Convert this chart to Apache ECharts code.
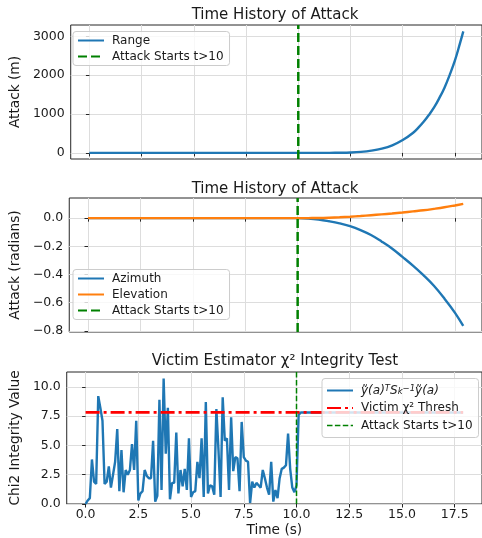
<!DOCTYPE html>
<html><head><meta charset="utf-8">
<script src="https://cdn.jsdelivr.net/npm/echarts@6/dist/echarts.min.js"></script>
<style>html,body{margin:0;padding:0;background:#fff}#c{width:482px;height:538px}</style>
</head><body><div id="c"></div>
<script>
// ---- tick labels ----
const xTicks = [0, 2.5, 5, 7.5, 10, 12.5, 15, 17.5];
const rangeTicks = [0, 1000, 2000, 3000];
const angleTicks = [-0.8, -0.6, -0.4, -0.2, 0.0];
const chiTicks = [0, 2.5, 5, 7.5, 10];

// ---- Range (m) ----
const rangeTime   = [0, 10, 10.5, 11, 11.5, 12, 12.5, 13, 13.5, 14, 14.5, 15, 15.5, 15.75, 16, 16.25, 16.5, 16.75, 17, 17.25, 17.5, 17.75, 17.9];
const rangeValues = [0, 0, 0, 0, 1, 4, 11, 27, 58, 110, 195, 330, 520, 650, 800, 975, 1170, 1410, 1680, 2010, 2380, 2840, 3130];

// ---- Azimuth / Elevation (radians) ----
const angleTime       = [0, 10, 10.5, 11, 11.5, 12, 12.5, 13, 13.5, 14, 14.5, 15, 15.5, 16, 16.5, 17, 17.5, 17.9];
const azimuthValues   = [0, 0, -0.003, -0.01, -0.022, -0.037, -0.057, -0.085, -0.12, -0.165, -0.215, -0.275, -0.337, -0.405, -0.48, -0.57, -0.67, -0.765];
const elevationValues = [0, 0, 0.0005, 0.001, 0.003, 0.006, 0.01, 0.015, 0.021, 0.027, 0.033, 0.04, 0.048, 0.056, 0.066, 0.077, 0.09, 0.101];

// ---- Chi2 test (sampled every 0.1 s from t = 0.0 to 10.2) ----
const chiStep = 0.1;
const chiValues = [
  0.0,0.3,0.5,3.8,1.9,1.7,9.2,8.2,7.1,1.7,
  1.9,3.2,1.4,2.5,3.6,6.4,1.1,4.6,1.0,2.9,
  2.5,2.9,5.1,2.9,7.1,0.3,0.9,1.1,2.9,2.4,
  2.2,2.2,5.4,0.2,0.7,8.9,1.2,10.7,4.3,8.2,
  0.4,1.8,1.8,6.1,0.9,2.9,1.5,3.0,1.2,5.6,
  0.6,1.0,1.1,3.6,2.2,5.6,0.6,8.7,0.9,1.6,
  1.5,0.8,8.1,4.6,0.6,9.1,5.4,5.6,1.2,7.4,
  2.8,4.0,3.9,1.1,7.0,4.0,3.7,3.6,0.1,1.9,
  1.4,1.8,1.6,1.4,2.9,2.2,1.4,0.8,3.6,0.2,
  1.2,0.5,2.2,3.0,3.1,3.3,6.0,3.0,1.4,1.0,
  1.6,7.6,7.81
];
const chiAttackTime   = [17.9];
const chiAttackValues = [7.81];
const threshTime  = [0, 17.9];
const threshValue = 7.81;
const attackStart = 10;

// ---- axis limits ----
const xMin = -0.895, xMax = 18.795;
const rangeMin = -157, rangeMax = 3293;
const angleMin = -0.808, angleMax = 0.143;
const chiMin = 0, chiMax = 11.26;

const nameChi = 'ỹ(a)ᵀSₖ⁻¹ỹ(a)';
const nameThresh = 'Victim χ² Thresh';
const nameAttack = 'Attack Starts t>10';

const FONT = 'DejaVu Sans';
const TXT = '#1a1a1a';
const BLUE = '#1f77b4', ORANGE = '#ff7f0e', GREEN = '#008000', RED = '#ff0000';

function pairs(xs, ys) { return xs.map((x, i) => [x, ys[i]]); }
const chiData = chiValues.map((v, i) => [Math.round(i * chiStep * 10) / 10, v])
  .concat(pairs(chiAttackTime, chiAttackValues));

const grids = [
  {left: 66, top: 25, width: 418, height: 134},
  {left: 66, top: 198, width: 418, height: 134},
  {left: 66, top: 372, width: 418, height: 134}
].map(g => Object.assign(g, {show: true, borderColor: '#262626', borderWidth: 1, backgroundColor: 'transparent', containLabel: false}));

const splitLine = {show: true, lineStyle: {color: '#dddddd', width: 1}};
const tickStyle = {show: true, inside: false, length: 3.5, lineStyle: {color: '#262626', width: 1}};

function xAx(gi, labels) {
  return {
    type: 'value', gridIndex: gi, min: xMin, max: xMax,
    axisLine: {show: false},
    axisTick: Object.assign({customValues: xTicks}, tickStyle),
    axisLabel: {show: labels, customValues: xTicks, formatter: v => v.toFixed(1), color: TXT, fontSize: 12.5, fontFamily: FONT, margin: 4},
    splitLine: splitLine,
    name: labels ? 'Time (s)' : '', nameLocation: 'middle', nameGap: 19,
    nameTextStyle: {fontSize: 13.7, color: TXT, fontFamily: FONT}
  };
}
function yAx(gi, min, max, ticks, fmt, name) {
  return {
    type: 'value', gridIndex: gi, min: min, max: max,
    axisLine: {show: false},
    axisTick: Object.assign({customValues: ticks}, tickStyle),
    axisLabel: {customValues: ticks, formatter: fmt, color: TXT, fontSize: 12.5, fontFamily: FONT, margin: 6},
    splitLine: splitLine,
    name: name, nameLocation: 'middle', nameGap: 39,
    nameTextStyle: {fontSize: 13.7, color: TXT, fontFamily: FONT}
  };
}

const legendCommon = {
  orient: 'vertical', selectedMode: false,
  backgroundColor: 'rgba(255,255,255,0.8)', borderColor: '#cccccc', borderWidth: 1, borderRadius: 3,
  padding: [3, 6, 3, 4], itemWidth: 26, itemHeight: 14, itemGap: 4,
  itemStyle: {opacity: 0},
  textStyle: {fontSize: 12, color: TXT, fontFamily: FONT, padding: [0, 0, 0, 3],
    rich: {
      i: {fontSize: 12, fontStyle: 'italic', fontFamily: FONT, color: TXT},
      sup: {fontSize: 8.5, fontStyle: 'italic', fontFamily: FONT, color: TXT, verticalAlign: 'top'},
      sub: {fontSize: 8.5, fontStyle: 'italic', fontFamily: FONT, color: TXT, verticalAlign: 'bottom'},
      n: {fontSize: 12, fontFamily: FONT, color: TXT}
    }}
};

function line(name, xi, data, color, width, type, extra) {
  return Object.assign({
    type: 'line', name: name, xAxisIndex: xi, yAxisIndex: xi, data: data,
    showSymbol: false, symbol: 'none', animation: false, silent: true,
    lineStyle: {color: color, width: width, type: type || 'solid', cap: 'butt'},
    itemStyle: {color: color}
  }, extra || {});
}

const option = {
  animation: false,
  backgroundColor: '#ffffff',
  grid: grids,
  xAxis: [xAx(0, false), xAx(1, false), xAx(2, true)],
  yAxis: [
    yAx(0, rangeMin, rangeMax, rangeTicks, v => String(v), 'Attack (m)'),
    yAx(1, angleMin, angleMax, angleTicks, v => (v < -1e-9 ? '\u2212' : '') + Math.abs(v).toFixed(1), 'Attack (radians)'),
    yAx(2, chiMin, chiMax, chiTicks, v => v.toFixed(1), 'Chi2 Integrity Value')
  ],
  legend: [
    Object.assign({}, legendCommon, {left: 73, top: 31.5, data: ['Range', nameAttack]}),
    Object.assign({}, legendCommon, {left: 73, top: 269.5, data: ['Azimuth', 'Elevation', nameAttack]}),
    Object.assign({}, legendCommon, {left: 322, top: 378.5, itemGap: 5.5, padding: [6, 6, 6, 4],
      data: [nameChi, nameThresh, {name: nameAttack, lineStyle: {width: 1.5, type: [5.5, 2.4], color: GREEN}}],
      formatter: n => n === nameChi ? '{i|ỹ(a)}{sup|T}{i|S}{sub|k}{sup|\u22121}{i|ỹ(a)}' : n})
  ],
  series: [
    line('Range', 0, pairs(rangeTime, rangeValues), BLUE, 2.4, 'solid', {smooth: 0.4}),
    line(nameAttack, 0, [[attackStart, rangeMin], [attackStart, rangeMax]], GREEN, 2.5, [9, 4]),
    line('Azimuth', 1, pairs(angleTime, azimuthValues), BLUE, 2.4, 'solid', {smooth: 0.4}),
    line('Elevation', 1, pairs(angleTime, elevationValues), ORANGE, 2.4, 'solid', {smooth: 0.4}),
    line(nameAttack, 1, [[attackStart, angleMin], [attackStart, angleMax]], GREEN, 2.5, [9, 4]),
    line(nameChi, 2, chiData, BLUE, 2.4),
    line(nameThresh, 2, threshTime.map(t => [t, threshValue]), RED, 2.7, [14, 4, 3, 4]),
    line(nameAttack, 2, [[attackStart, chiMin], [attackStart, chiMax]], GREEN, 1.5, [5.5, 2.4])
  ],
  graphic: [
    {type: 'text', x: 275, y: 15, style: {text: 'Time History of Attack', font: '15px "DejaVu Sans"', fill: TXT, textAlign: 'center', textVerticalAlign: 'middle'}},
    {type: 'text', x: 275, y: 189, style: {text: 'Time History of Attack', font: '15px "DejaVu Sans"', fill: TXT, textAlign: 'center', textVerticalAlign: 'middle'}},
    {type: 'text', x: 275, y: 361.5, style: {text: 'Victim Estimator χ² Integrity Test', font: '15px "DejaVu Sans"', fill: TXT, textAlign: 'center', textVerticalAlign: 'middle'}}
  ]
};

const chart = echarts.init(document.getElementById('c'), null, {renderer: 'canvas'});
chart.setOption(option);
</script>
</body></html>
